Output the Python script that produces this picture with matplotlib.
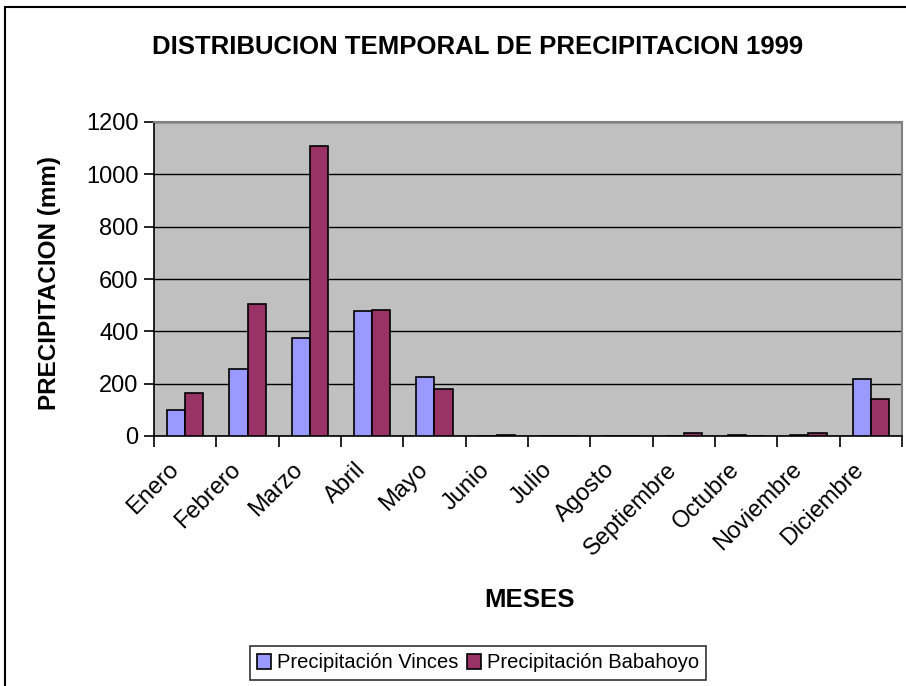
import matplotlib.pyplot as plt
import numpy as np
from matplotlib.patches import Rectangle
from matplotlib.transforms import ScaledTranslation

plt.rcParams['font.family'] = ['Liberation Sans', 'DejaVu Sans']

meses = ['Enero', 'Febrero', 'Marzo', 'Abril', 'Mayo', 'Junio', 'Julio',
         'Agosto', 'Septiembre', 'Octubre', 'Noviembre', 'Diciembre']
vinces = [99, 256, 374, 478, 225, 0, 0, 0, 0, 4, 4, 217]
babahoyo = [164, 504, 1108, 481, 180, 5, 0, 0, 12, 0, 12, 140]

fig = plt.figure(figsize=(9.06, 6.86), dpi=100)
ax = fig.add_axes([154 / 906, 1 - 436 / 686, 748 / 906, 314 / 686])

x = np.arange(len(meses))
w = 0.29
ax.bar(x - w / 2, vinces, w, color='#9999FF', edgecolor='black', linewidth=1.2,
       label='Precipitación Vinces', zorder=3)
ax.bar(x + w / 2, babahoyo, w, color='#993366', edgecolor='black', linewidth=1.2,
       label='Precipitación Babahoyo', zorder=3)

ax.set_facecolor('#C0C0C0')
ax.set_xlim(-0.5, len(meses) - 0.5)
ax.set_ylim(0, 1200)
ax.set_yticks(range(0, 1201, 200))
ax.yaxis.grid(True, color='black', linewidth=1)
ax.set_axisbelow(True)

ax.set_xticks(np.arange(-0.5, len(meses), 1))
ax.set_xticklabels([])
ax.set_xticks(x, minor=True)
ax.set_xticklabels(meses, minor=True, rotation=45, ha='right', va='top',
                   rotation_mode='anchor', fontsize=17)
ax.tick_params(axis='x', which='minor', length=0, pad=12)
ax.tick_params(axis='x', which='major', length=8, width=1.2, direction='out')
ax.tick_params(axis='y', length=7, width=1.2, labelsize=17, pad=4)

# shift month labels a little left/down like the original
shift = ScaledTranslation(-18 / 100, -6 / 100, fig.dpi_scale_trans)
for lbl in ax.get_xticklabels(minor=True):
    lbl.set_transform(lbl.get_transform() + shift)

for s in ['top', 'right']:
    ax.spines[s].set_color('#808080')
    ax.spines[s].set_linewidth(1.5)
for s in ['left', 'bottom']:
    ax.spines[s].set_color('black')
    ax.spines[s].set_linewidth(1.2)

fig.text(50 / 906, 1 - 283 / 686, 'PRECIPITACION (mm)', fontsize=17.5,
         fontweight='bold', rotation=90, ha='center', va='center')
fig.text(529 / 906, 1 - 600 / 686, 'MESES', fontsize=18.5, fontweight='bold',
         ha='center', va='center')
fig.text(478 / 906, 1 - 47 / 686, 'DISTRIBUCION TEMPORAL DE PRECIPITACION 1999',
         fontsize=18.5, fontweight='bold', ha='center', va='center')

leg = fig.legend(loc='center', bbox_to_anchor=(478 / 906, 1 - 663 / 686), ncol=2,
                 fontsize=14.5, frameon=True, fancybox=False, handlelength=0.7,
                 handleheight=0.7, handletextpad=0.3, columnspacing=0.4,
                 borderpad=0.35, borderaxespad=0)
leg.get_frame().set_edgecolor('black')
leg.get_frame().set_linewidth(1.2)

fig.patches.append(Rectangle((5 / 906, -0.02), 1.1, 1 - 7 / 686 + 0.02,
                             transform=fig.transFigure, fill=False,
                             edgecolor='black', linewidth=1.5))

fig.savefig('out.png', dpi=100)
